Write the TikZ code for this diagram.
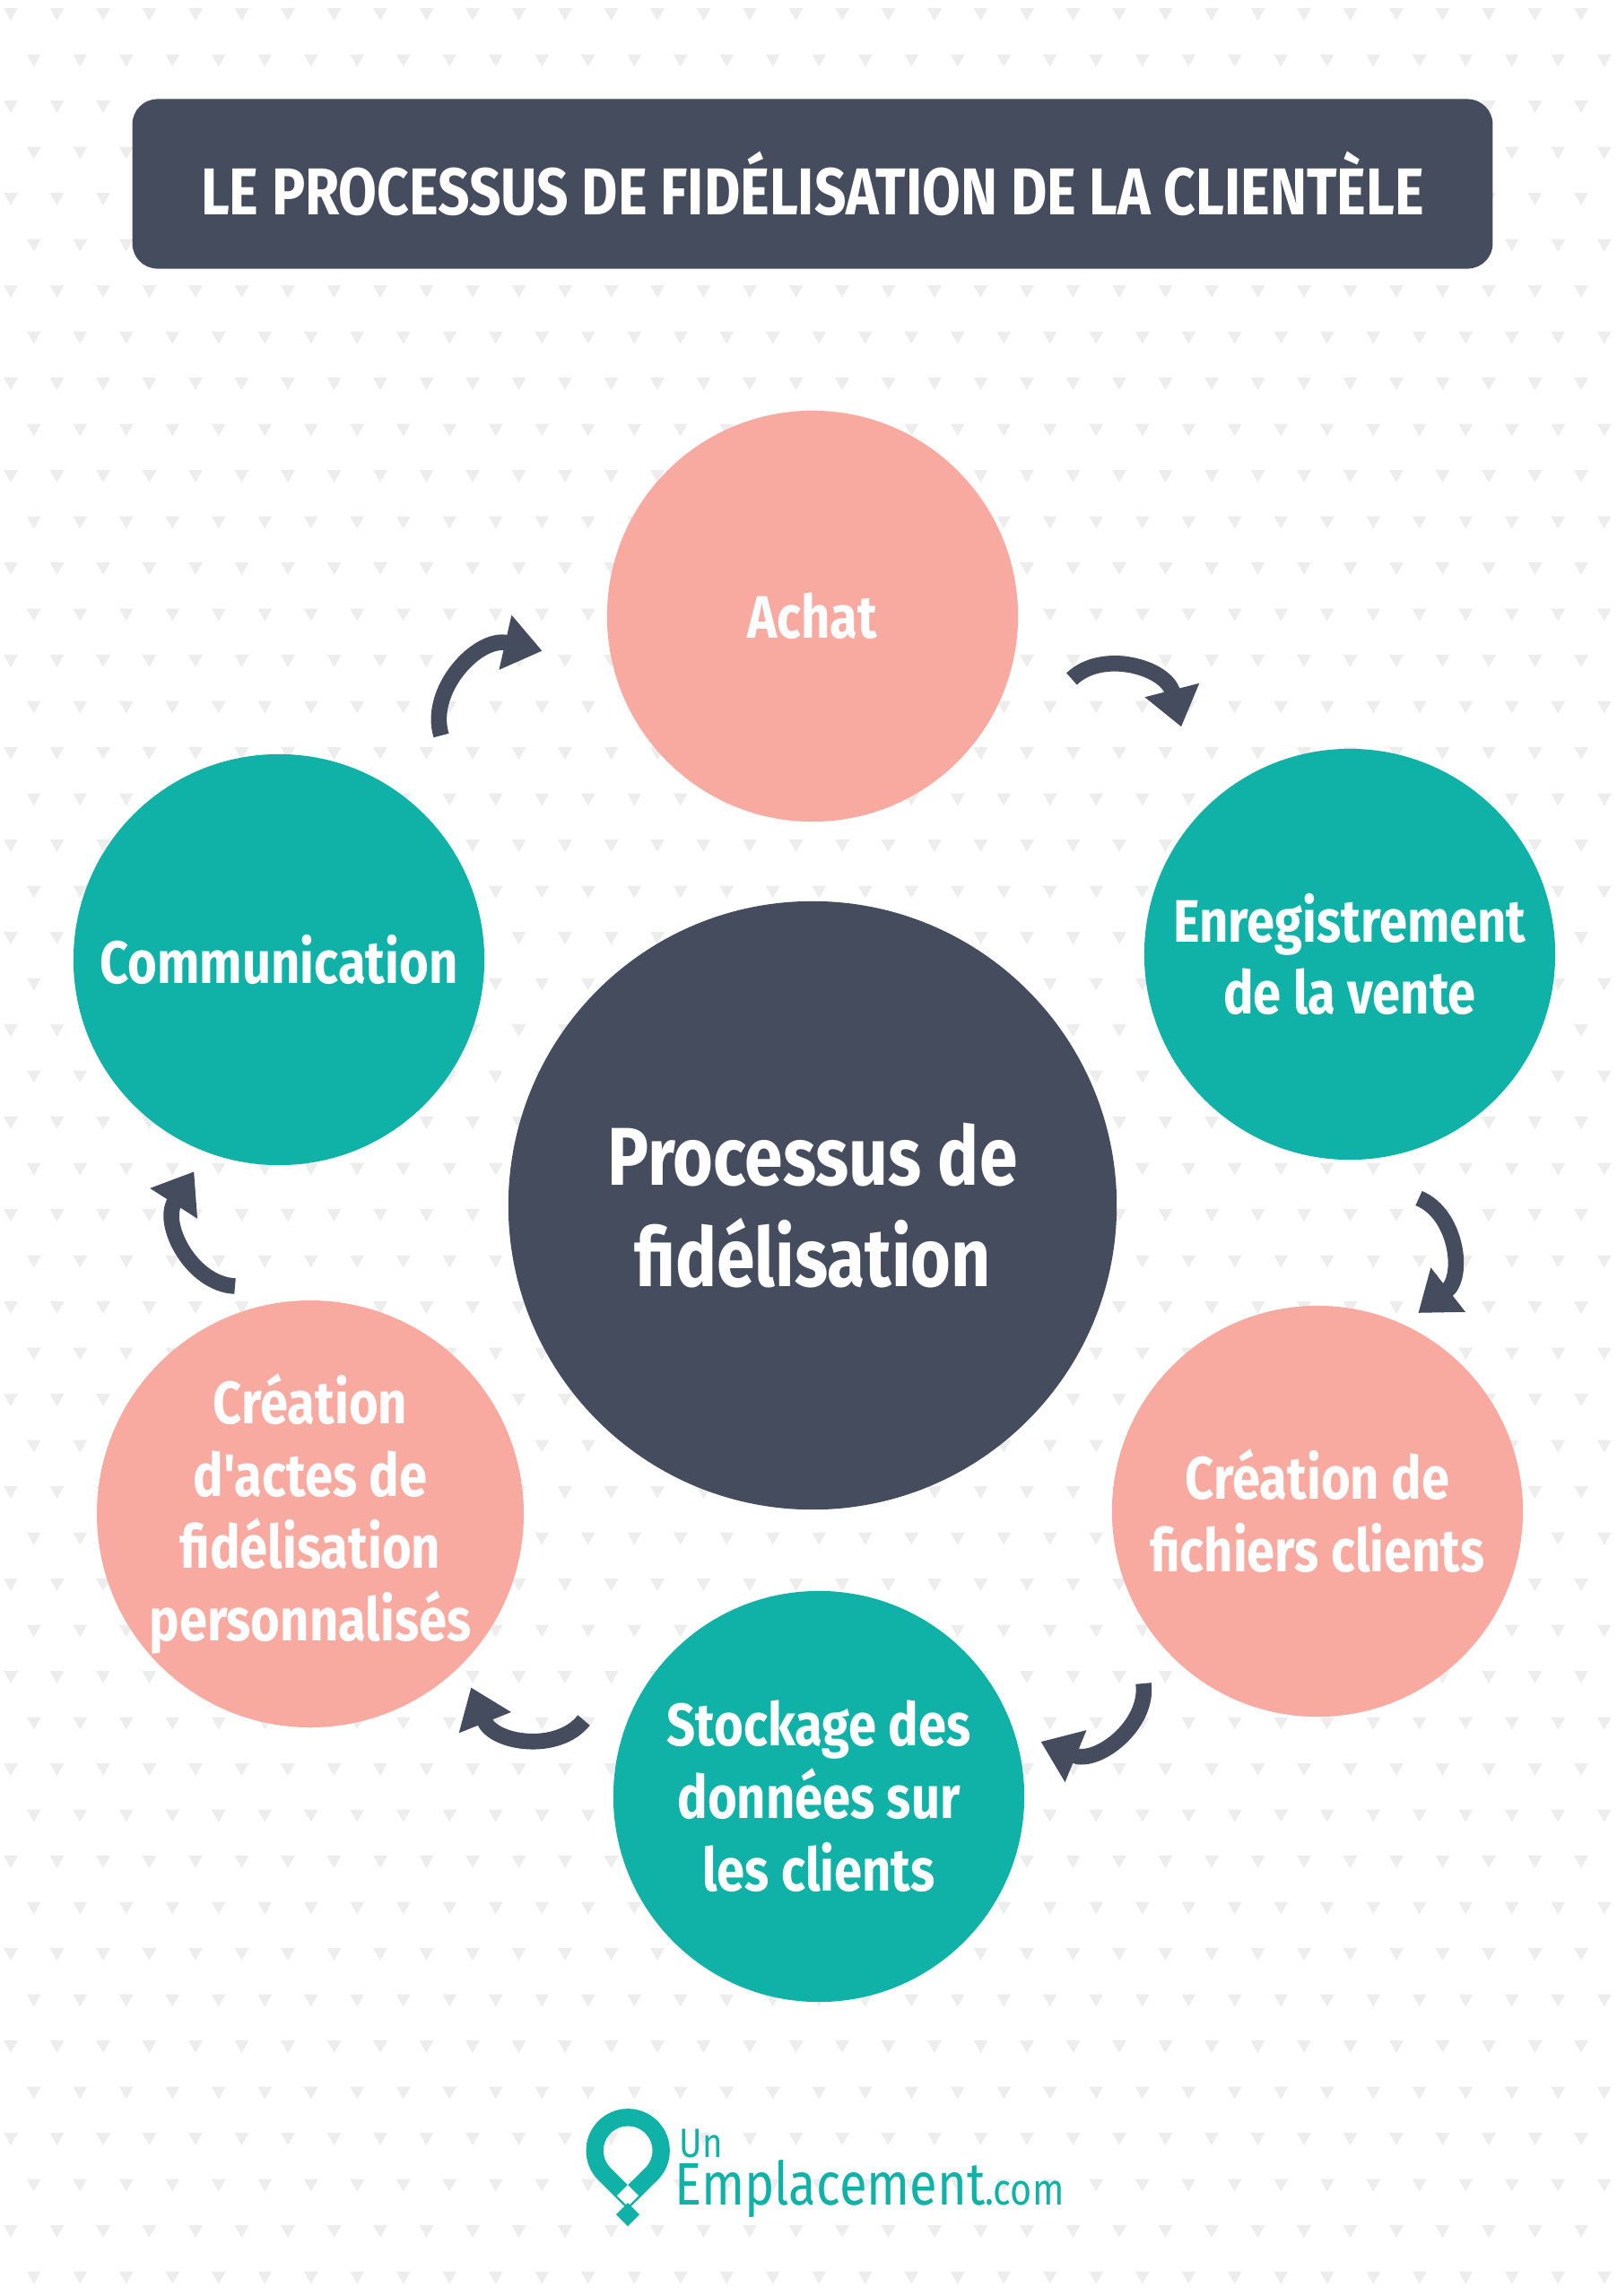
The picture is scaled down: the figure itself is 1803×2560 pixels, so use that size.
\documentclass[tikz,border=0pt]{standalone}
\usepackage{fontspec}
\setmainfont{Fira Sans}[FakeStretch=0.84, Ligatures=TeXOff]
\usetikzlibrary{arrows.meta}
\definecolor{slate}{HTML}{454C5E}
\definecolor{salmon}{HTML}{F9AAA0}
\definecolor{jade}{HTML}{10B2A8}
\definecolor{speck}{HTML}{EDEDED}
\tikzset{
  stage/.style={circle, minimum size=4.58cm, inner sep=0pt, align=center, text=white,
    font=\fontsize{19}{23}\selectfont\bfseries},
  pinkstage/.style={stage, fill=salmon},
  tealstage/.style={stage, fill=jade},
  turn/.style={slate, line width=5pt, -{Triangle[width=17pt,length=12pt]}, shorten >=-6pt}
}
\begin{document}
\begin{tikzpicture}[x=0.01cm, y=-0.01cm]
\useasboundingbox (0,0) rectangle (1803,2560);
% background specks
\foreach \r in {0,...,49}
  \foreach \c in {0,...,35}
    \fill[speck, shift={({12+51.5*\c+25.75*mod(\r,2)},{15+51.5*\r})}] (-8,-6) -- (8,-6) -- (0,8) -- cycle;
% title
\node[fill=slate, rounded corners=8pt, minimum width=15.16cm, minimum height=1.89cm, text=white,
  font=\fontsize{21}{25}\selectfont\bfseries] (title) at (906,205) {LE PROCESSUS DE FIDÉLISATION DE LA CLIENTÈLE};
% stages
\node[circle, fill=slate, minimum size=6.78cm, inner sep=0pt, align=center, text=white,
  font=\fontsize{26}{32}\selectfont\bfseries] (core) at (906,1344) {Processus de\\fidélisation};
\node[pinkstage] (achat) at (906,687) {Achat};
\node[tealstage] (vente) at (1505,1064) {Enregistrement\\de la vente};
\node[pinkstage] (fichiers) at (1469,1685) {Création de\\fichiers clients};
\node[tealstage] (stock) at (913,2003) {Stockage des\\données sur\\les clients};
\node[pinkstage] (actes) at (346,1688) {Création\\d'actes de\\fidélisation\\personnalisés};
\node[tealstage] (comm) at (311,1070) {Communication};
% arrows
\coordinate (a1) at (1195,757);  \coordinate (b1) at (1312,790);
\coordinate (a2) at (1582,1336); \coordinate (b2) at (1598,1451);
\coordinate (a3) at (1275,1877); \coordinate (b3) at (1180,1950);
\coordinate (a4) at (651,1918);  \coordinate (b4) at (533,1901);
\coordinate (a5) at (262,1434);  \coordinate (b5) at (205,1324);
\coordinate (a6) at (492,820);   \coordinate (b6) at (584,721);
\foreach \i in {1,...,6}
  \draw[turn] (a\i) to[bend left=60] (b\i);
% logo
\draw[jade, line width=5.5pt] (674,2424) arc[start angle=135, end angle=405, radius=37] -- (700,2450) -- cycle;
\fill[white] (700,2436) -- (712,2448) -- (700,2460) -- (688,2448) -- cycle;
\fill[jade] (700,2456) -- (713,2469) -- (700,2482) -- (687,2469) -- cycle;
\node[jade, anchor=base west, inner sep=0pt, font=\fontsize{13}{14}\selectfont] (un) at (757,2405) {Un};
\node[jade, anchor=base west, inner sep=0pt, font=\fontsize{19}{21}\selectfont] (brand) at (752,2458)
  {Emplacement{\fontsize{14}{16}\selectfont.com}};
\end{tikzpicture}
\end{document}
